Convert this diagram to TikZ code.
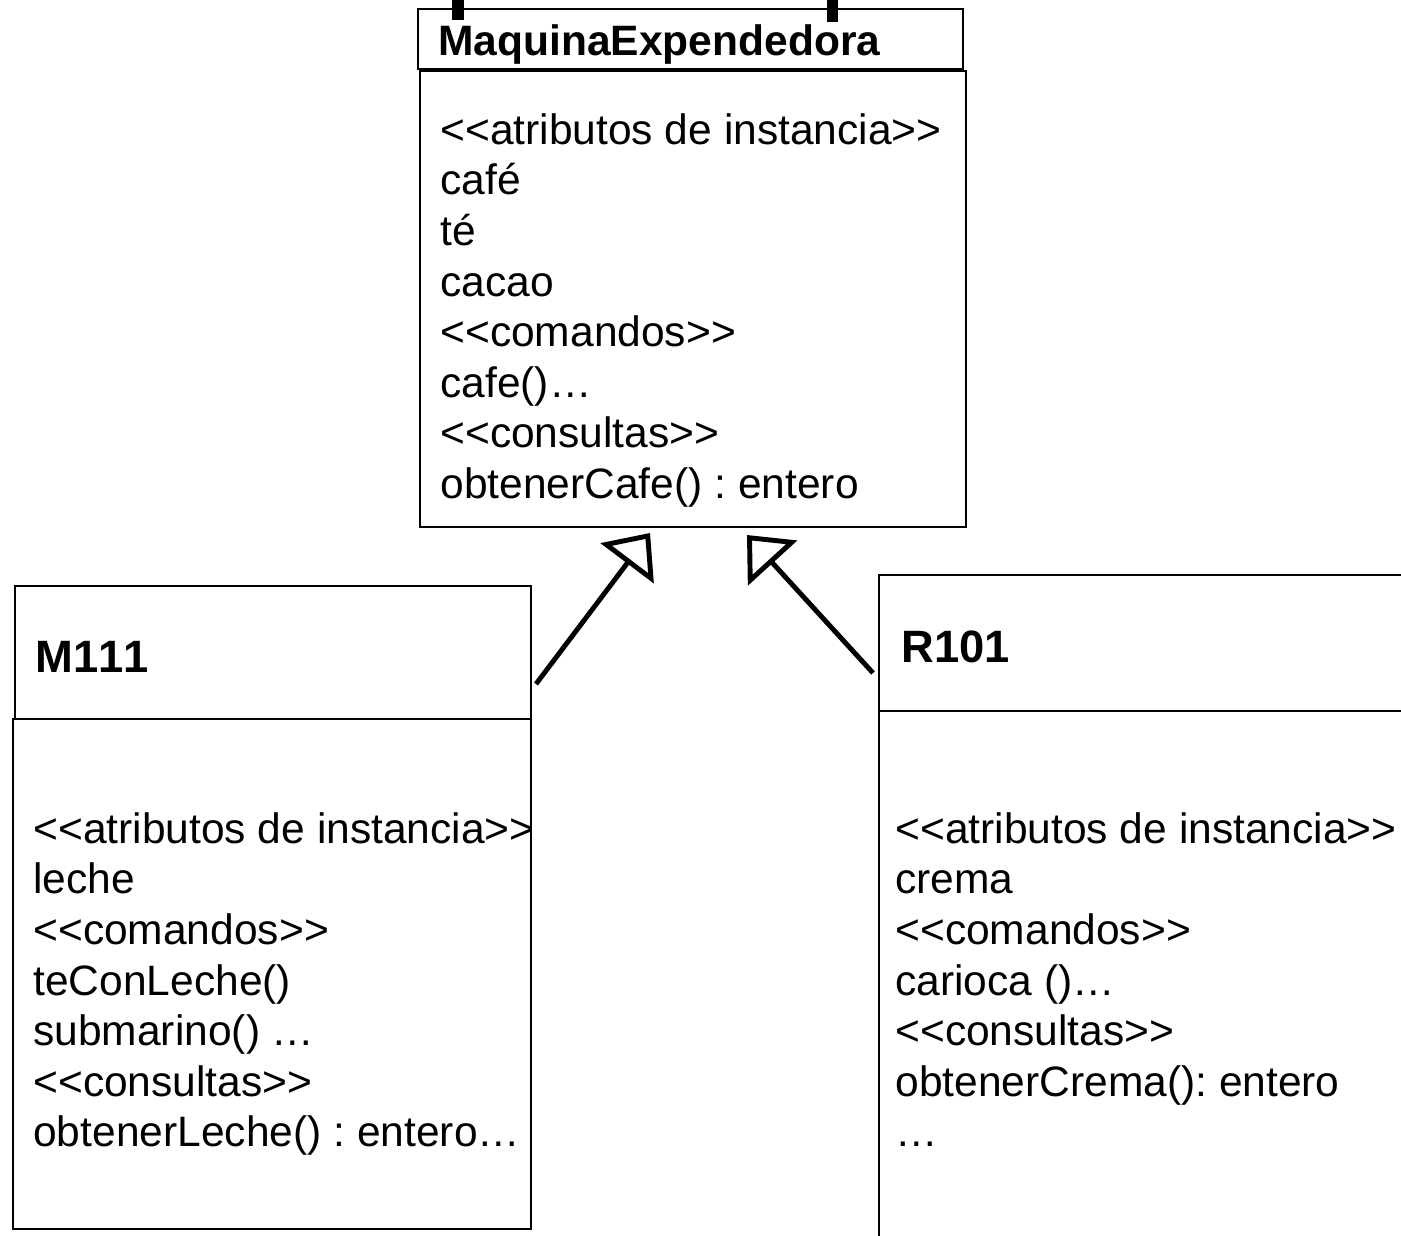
\documentclass[tikz,border=0pt]{standalone}
\usepackage{fontspec}
\setmainfont[Ligatures=TeXOff,Kerning=Off]{Liberation Sans}
\usetikzlibrary{arrows.meta}
\frenchspacing

\tikzset{
  classbox/.style={draw,line width=1.1pt,anchor=north west,inner sep=0pt},
  members/.style={anchor=north west,inner sep=0pt,align=left,
    font=\fontsize{24.2}{28.8}\selectfont},
  classname/.style={anchor=base west,inner sep=0pt,
    font=\fontsize{24.2}{29}\selectfont\bfseries},
  bigname/.style={classname,font=\fontsize{25.8}{31}\selectfont\bfseries},
  inherit/.style={line width=2.8pt,-{Triangle[open,length=0.76cm,width=1.32cm]}}
}

\begin{document}
\begin{tikzpicture}
\useasboundingbox (0,0) rectangle (28.02,-24.7);
\clip (0,0) rectangle (28.02,-24.7);

% Marks above the top class
\fill (9.04,0) rectangle (9.28,-0.4);
\fill (16.54,0) rectangle (16.76,-0.44);

% MaquinaExpendedora
\node[classbox,minimum width=10.9cm,minimum height=1.2cm] (maqhead) at (8.34,-0.16) {};
\node[classbox,minimum width=10.92cm,minimum height=9.12cm] (maqbody) at (8.38,-1.40) {};
\node[classname] (maqname) at (8.76,-1.10) {MaquinaExpendedora};
\node[members] (maqmembers) at (8.80,-2.26) {<<atributos de instancia>>\\café\\té\\cacao\\<<comandos>>\\cafe()…\\<<consultas>>\\obtenerCafe() : entero};

% M111
\node[classbox,minimum width=10.32cm,minimum height=2.66cm] (mhead) at (0.28,-11.70) {};
\node[classbox,minimum width=10.36cm,minimum height=10.2cm] (mbody) at (0.24,-14.36) {};
\node[bigname] (mname) at (0.70,-13.44) {M111};
\node[members] (mmembers) at (0.66,-16.24) {<<atributos de instancia>>\\leche\\<<comandos>>\\teConLeche()\\submarino() …\\<<consultas>>\\obtenerLeche() : entero…};

% R101 (runs past the right and bottom edges)
\node[classbox,minimum width=11.04cm,minimum height=2.72cm] (rhead) at (17.56,-11.48) {};
\node[classbox,minimum width=11.04cm,minimum height=11cm] (rbody) at (17.56,-14.20) {};
\node[bigname] (rname) at (18.02,-13.24) {R101};
\node[members] (rmembers) at (17.90,-16.24) {<<atributos de instancia>>\\crema\\<<comandos>>\\carioca ()…\\<<consultas>>\\obtenerCrema(): entero\\…};

% Inheritance arrows
\coordinate (mfrom) at (10.72,-13.68);
\coordinate (mto) at (13.0,-10.66);
\coordinate (rfrom) at (17.46,-13.46);
\coordinate (rto) at (14.94,-10.70);
\draw[inherit] (mfrom) -- (mto);
\draw[inherit] (rfrom) -- (rto);
\end{tikzpicture}
\end{document}
